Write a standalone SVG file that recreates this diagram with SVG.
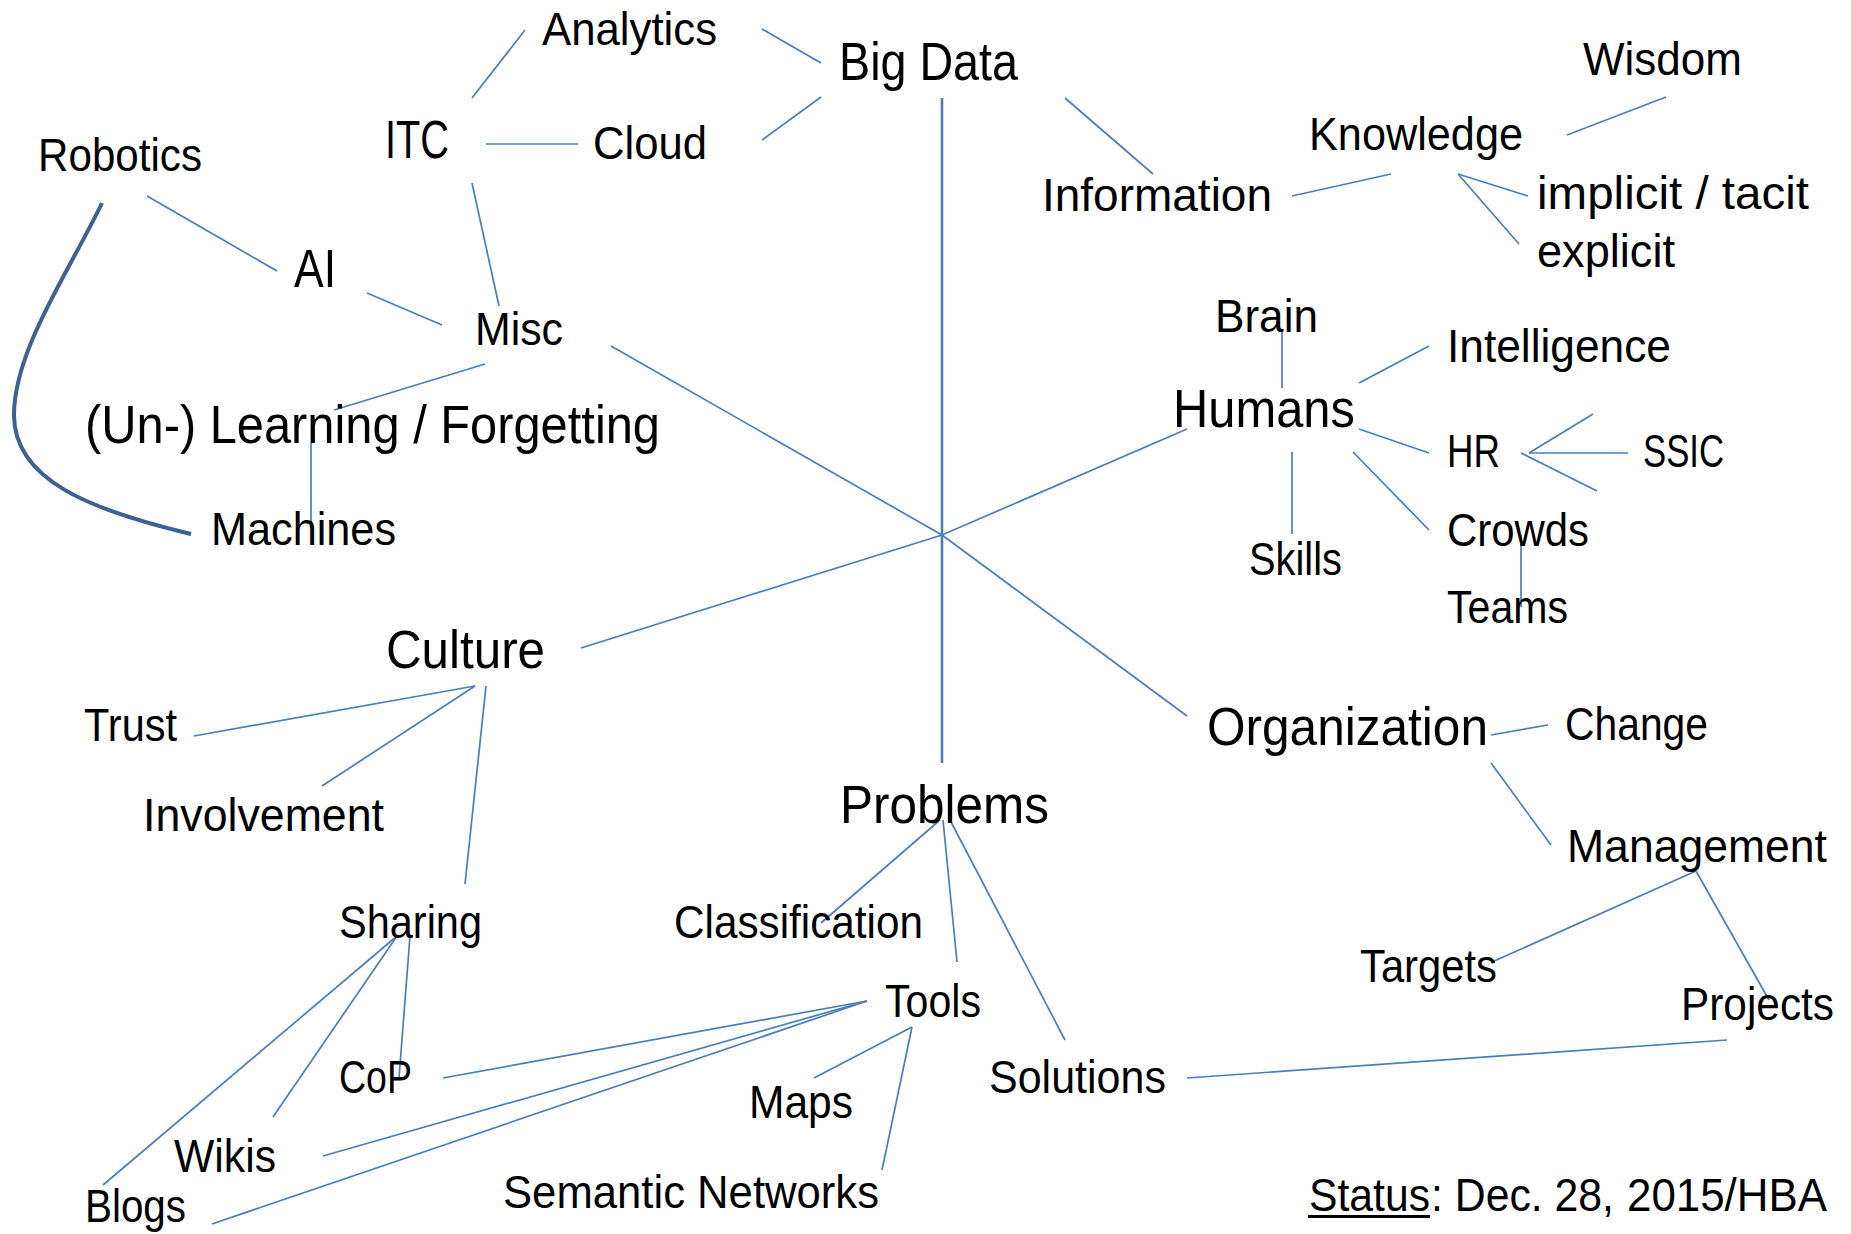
<svg xmlns="http://www.w3.org/2000/svg" width="1851" height="1234" viewBox="0 0 1851 1234">
<style>
text{font-family:"Liberation Sans",Arial,sans-serif;fill:#000}
.s{font-size:47px}
.l{font-size:53px}
.c line,.c path{stroke:#4A7EBB;stroke-width:1.7;fill:none}
.c .v{stroke-width:2.6}
.c .thick{stroke:#3C6291;stroke-width:4}
</style>
<rect width="1851" height="1234" fill="#fff"/>
<g id="connectors" class="c">
<line x1="472" y1="98" x2="525" y2="30"/>
<line x1="486" y1="144" x2="578" y2="144"/>
<line x1="472" y1="183" x2="499" y2="306"/>
<line x1="147" y1="196" x2="277" y2="271"/>
<line x1="367" y1="293" x2="442" y2="325"/>
<line x1="485" y1="364" x2="334" y2="410"/>
<line x1="611" y1="346" x2="942" y2="535"/>
<line x1="762" y1="29" x2="821" y2="63"/>
<line x1="762" y1="140" x2="821" y2="97"/>
<line class="v" x1="942" y1="98" x2="942" y2="763"/>
<line x1="1065" y1="98" x2="1153" y2="174"/>
<line x1="1292" y1="196" x2="1391" y2="174"/>
<line x1="1567" y1="135" x2="1666" y2="97"/>
<line x1="1458" y1="174" x2="1528" y2="196"/>
<line x1="1458" y1="174" x2="1519" y2="244"/>
<line x1="1282" y1="330" x2="1282" y2="388"/>
<line x1="1359" y1="383" x2="1429" y2="346"/>
<line x1="942" y1="535" x2="1187" y2="429"/>
<line x1="1359" y1="429" x2="1429" y2="453"/>
<line x1="1292" y1="452" x2="1292" y2="534"/>
<line x1="1353" y1="452" x2="1429" y2="530"/>
<line x1="1529" y1="453" x2="1593" y2="414"/>
<line x1="1529" y1="453" x2="1628" y2="453"/>
<line x1="1521" y1="453" x2="1597" y2="491"/>
<line x1="1521" y1="535" x2="1521" y2="607"/>
<line x1="311" y1="443" x2="311" y2="522"/>
<line x1="581" y1="648" x2="942" y2="535"/>
<line x1="475" y1="686" x2="194" y2="736"/>
<line x1="475" y1="686" x2="322" y2="786"/>
<line x1="486" y1="686" x2="465" y2="884"/>
<line x1="942" y1="535" x2="1187" y2="716"/>
<line x1="1491" y1="735" x2="1548" y2="725"/>
<line x1="1491" y1="763" x2="1551" y2="845"/>
<line x1="1696" y1="871" x2="1492" y2="962"/>
<line x1="1696" y1="871" x2="1769" y2="1000"/>
<line x1="1187" y1="1078" x2="1727" y2="1040"/>
<line x1="940" y1="820" x2="821" y2="923"/>
<line x1="943" y1="820" x2="957" y2="962"/>
<line x1="950" y1="820" x2="1065" y2="1040"/>
<line x1="867" y1="1001" x2="443" y2="1078"/>
<line x1="867" y1="1001" x2="323" y2="1156"/>
<line x1="867" y1="1001" x2="212" y2="1224"/>
<line x1="912" y1="1027" x2="814" y2="1078"/>
<line x1="912" y1="1027" x2="882" y2="1170"/>
<line x1="397" y1="936" x2="103" y2="1185"/>
<line x1="397" y1="936" x2="273" y2="1117"/>
<line x1="410" y1="936" x2="399" y2="1078"/>
<path class="thick" d="M102,203 C70,270 14,350 14,415 C14,480 90,510 191,534"/>
</g>
<g id="n-analytics"><text class="s" x="542" y="45" textLength="175" lengthAdjust="spacingAndGlyphs">Analytics</text></g>
<g id="n-bigdata"><text class="l" x="839" y="80" textLength="179" lengthAdjust="spacingAndGlyphs">Big Data</text></g>
<g id="n-itc"><text class="l" x="385" y="158" textLength="64" lengthAdjust="spacingAndGlyphs">ITC</text></g>
<g id="n-cloud"><text class="s" x="593" y="159" textLength="114" lengthAdjust="spacingAndGlyphs">Cloud</text></g>
<g id="n-robotics"><text class="s" x="38" y="171" textLength="164" lengthAdjust="spacingAndGlyphs">Robotics</text></g>
<g id="n-ai"><text class="l" x="294" y="287" textLength="42" lengthAdjust="spacingAndGlyphs">AI</text></g>
<g id="n-misc"><text class="s" x="475" y="345" textLength="88" lengthAdjust="spacingAndGlyphs">Misc</text></g>
<g id="n-learning"><text class="l" x="85" y="443" textLength="575" lengthAdjust="spacingAndGlyphs">(Un-) Learning / Forgetting</text></g>
<g id="n-machines"><text class="s" x="211" y="545" textLength="185" lengthAdjust="spacingAndGlyphs">Machines</text></g>
<g id="n-information"><text class="s" x="1042" y="211" textLength="230" lengthAdjust="spacingAndGlyphs">Information</text></g>
<g id="n-knowledge"><text class="s" x="1309" y="150" textLength="214" lengthAdjust="spacingAndGlyphs">Knowledge</text></g>
<g id="n-wisdom"><text class="s" x="1583" y="75" textLength="159" lengthAdjust="spacingAndGlyphs">Wisdom</text></g>
<g id="n-implicit"><text class="s" x="1537" y="209" textLength="272" lengthAdjust="spacingAndGlyphs">implicit / tacit</text></g>
<g id="n-explicit"><text class="s" x="1537" y="267" textLength="138" lengthAdjust="spacingAndGlyphs">explicit</text></g>
<g id="n-brain"><text class="s" x="1215" y="332" textLength="103" lengthAdjust="spacingAndGlyphs">Brain</text></g>
<g id="n-intelligence"><text class="s" x="1447" y="362" textLength="224" lengthAdjust="spacingAndGlyphs">Intelligence</text></g>
<g id="n-humans"><text class="l" x="1173" y="427" textLength="182" lengthAdjust="spacingAndGlyphs">Humans</text></g>
<g id="n-hr"><text class="s" x="1447" y="467" textLength="53" lengthAdjust="spacingAndGlyphs">HR</text></g>
<g id="n-ssic"><text class="s" x="1643" y="467" textLength="81" lengthAdjust="spacingAndGlyphs">SSIC</text></g>
<g id="n-crowds"><text class="s" x="1447" y="546" textLength="142" lengthAdjust="spacingAndGlyphs">Crowds</text></g>
<g id="n-teams"><text class="s" x="1447" y="623" textLength="121" lengthAdjust="spacingAndGlyphs">Teams</text></g>
<g id="n-skills"><text class="s" x="1249" y="575" textLength="93" lengthAdjust="spacingAndGlyphs">Skills</text></g>
<g id="n-culture"><text class="l" x="386" y="668" textLength="159" lengthAdjust="spacingAndGlyphs">Culture</text></g>
<g id="n-trust"><text class="s" x="84" y="741" textLength="93" lengthAdjust="spacingAndGlyphs">Trust</text></g>
<g id="n-involvement"><text class="s" x="143" y="831" textLength="241" lengthAdjust="spacingAndGlyphs">Involvement</text></g>
<g id="n-organization"><text class="l" x="1207" y="745" textLength="281" lengthAdjust="spacingAndGlyphs">Organization</text></g>
<g id="n-change"><text class="s" x="1565" y="740" textLength="143" lengthAdjust="spacingAndGlyphs">Change</text></g>
<g id="n-management"><text class="s" x="1567" y="862" textLength="260" lengthAdjust="spacingAndGlyphs">Management</text></g>
<g id="n-problems"><text class="l" x="840" y="823" textLength="209" lengthAdjust="spacingAndGlyphs">Problems</text></g>
<g id="n-classification"><text class="s" x="674" y="938" textLength="249" lengthAdjust="spacingAndGlyphs">Classification</text></g>
<g id="n-tools"><text class="s" x="885" y="1017" textLength="96" lengthAdjust="spacingAndGlyphs">Tools</text></g>
<g id="n-maps"><text class="s" x="749" y="1118" textLength="104" lengthAdjust="spacingAndGlyphs">Maps</text></g>
<g id="n-semnet"><text class="s" x="503" y="1208" textLength="376" lengthAdjust="spacingAndGlyphs">Semantic Networks</text></g>
<g id="n-solutions"><text class="s" x="989" y="1093" textLength="177" lengthAdjust="spacingAndGlyphs">Solutions</text></g>
<g id="n-targets"><text class="s" x="1360" y="982" textLength="137" lengthAdjust="spacingAndGlyphs">Targets</text></g>
<g id="n-projects"><text class="s" x="1681" y="1020" textLength="153" lengthAdjust="spacingAndGlyphs">Projects</text></g>
<g id="n-sharing"><text class="s" x="339" y="938" textLength="143" lengthAdjust="spacingAndGlyphs">Sharing</text></g>
<g id="n-cop"><text class="s" x="339" y="1093" textLength="73" lengthAdjust="spacingAndGlyphs">CoP</text></g>
<g id="n-wikis"><text class="s" x="174" y="1172" textLength="102" lengthAdjust="spacingAndGlyphs">Wikis</text></g>
<g id="n-blogs"><text class="s" x="85" y="1222" textLength="101" lengthAdjust="spacingAndGlyphs">Blogs</text></g>
<g id="n-status">
<text class="s" x="1309" y="1211" textLength="121" lengthAdjust="spacingAndGlyphs">Status</text>
<rect x="1308" y="1215" width="122" height="3" fill="#000"/>
<text class="s" x="1431" y="1211" textLength="183" lengthAdjust="spacingAndGlyphs">: Dec. 28,</text>
<text class="s" x="1627" y="1211" textLength="200" lengthAdjust="spacingAndGlyphs">2015/HBA</text>
</g>
</svg>
